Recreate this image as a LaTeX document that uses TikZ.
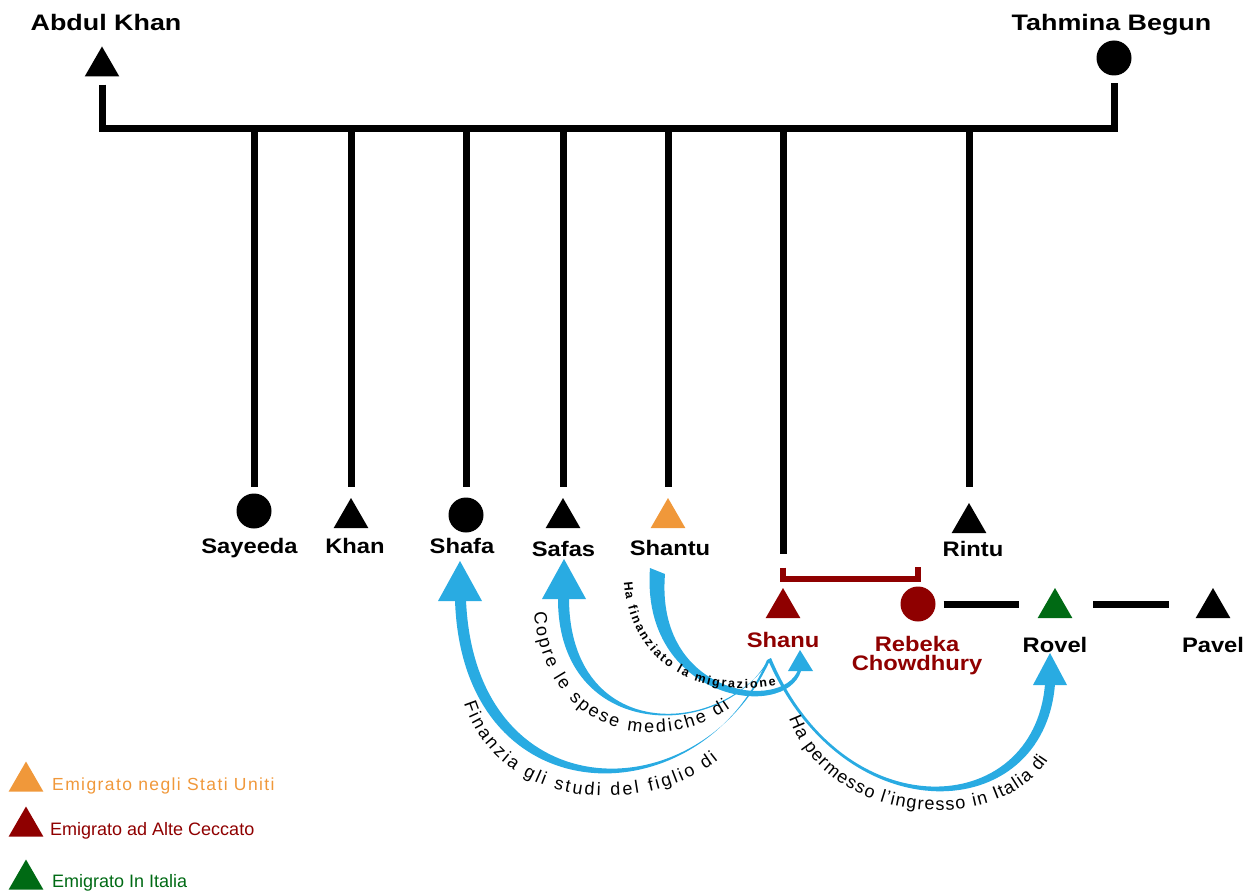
\documentclass[tikz,border=0pt]{standalone}
\usepackage{fontspec}
\setmainfont{Liberation Sans}
\newfontfamily\namefont{Liberation Sans}[FakeStretch=1.13]
\newfontfamily\topfont{Liberation Sans}[FakeStretch=1.2]
\newfontfamily\spacedfont{Liberation Sans}[LetterSpace=8]
\usetikzlibrary{shapes.geometric,calc,decorations.text}
\definecolor{arrowblue}{RGB}{41,171,226}
\definecolor{usaorange}{RGB}{240,152,58}
\definecolor{altered}{RGB}{143,0,0}
\definecolor{itagreen}{RGB}{0,106,20}
\newcommand\arcfont{\fontsize{18}{20}\selectfont}
\newcommand\smallarcfont{\bfseries\fontsize{12.5}{14}\selectfont}
\tikzset{
  male/.style={regular polygon, regular polygon sides=3, minimum size=40pt, inner sep=0pt, fill=black},
  female/.style={circle, minimum size=35pt, inner sep=0pt, fill=black},
  nametxt/.style={font=\namefont\bfseries\fontsize{21}{19.6}\selectfont, anchor=base, inner sep=0pt, align=center},
  topname/.style={font=\topfont\bfseries\fontsize{22.4}{24}\selectfont, anchor=base, inner sep=0pt},
  legendtxt/.style={anchor=base west, inner sep=0pt, font=\fontsize{18}{20}\selectfont},
  famline/.style={line width=7pt},
  marline/.style={line width=6pt, altered},
  arclabel/.style={decorate, decoration={text along path, text color=black, text align={fit to path}, text={#1}}},
}
\begin{document}
\begin{tikzpicture}[x=1pt,y=-1pt]
\useasboundingbox (0,0) rectangle (1255,893);

% parents
\node[male] (abdul) at (102,66.5) {};
\node[female] (tahmina) at (1114,58) {};
\node[topname] (abdultxt) at (106,30.7) {Abdul Khan};
\node[topname] (tahminatxt) at (1111.5,30.5) {Tahmina Begun};

% children
\node[female] (sayeeda) at (254,511) {};
\node[male] (khan) at (351,518) {};
\node[female] (shafa) at (466,515) {};
\node[male] (safas) at (563,518) {};
\node[male, fill=usaorange] (shantu) at (668,518) {};
\node[male] (rintu) at (969,523) {};
\node[male, fill=altered] (shanu) at (783,608) {};
\node[female, fill=altered] (rebeka) at (918,604) {};
\node[male, fill=itagreen] (rovel) at (1055,608) {};
\node[male] (pavel) at (1213,608) {};

\node[nametxt] (sayeedatxt) at (249.5,553) {Sayeeda};
\node[nametxt] (khantxt) at (355,553) {Khan};
\node[nametxt] (shafatxt) at (462,553) {Shafa};
\node[nametxt] (safastxt) at (563.5,556) {Safas};
\node[nametxt] (shantutxt) at (670,555) {Shantu};
\node[nametxt] (rintutxt) at (973,556) {Rintu};
\node[nametxt, text=altered] (shanutxt) at (783,647) {Shanu};
\node[nametxt, text=altered] (rebekatxt) at (917,670.6) {Rebeka\\Chowdhury};
\node[nametxt] (roveltxt) at (1055,652) {Rovel};
\node[nametxt] (paveltxt) at (1213,652) {Pavel};

% family lines
\coordinate (bar) at (0,129);
\coordinate (kidbar) at (0,487);
\draw[famline, shorten <=8pt, shorten >=7pt] (abdul.south) |- (bar -| tahmina.south) -- (tahmina.south);
\foreach \kid in {sayeeda,khan,shafa,safas,shantu,rintu}
  \draw[famline] (\kid |- bar) -- (\kid |- kidbar);
\draw[famline] (shanu |- bar) -- ($(shanu.north)+(0,-34)$);
\draw[marline] ($(shanu.north)+(0,-20)$) |- ($(rebeka.north)+(0,-7)$) -- ($(rebeka.north)+(0,-19)$);
\draw[famline] ($(rebeka.east)+(8,0)$) -- ($(rovel.center |- rebeka.east)+(-36,0)$);
\draw[famline] ($(rovel.center |- rebeka.east)+(38,0)$) -- ($(pavel.center |- rebeka.east)+(-44,0)$);

% arrows
\fill[arrowblue] (767,660) .. controls (700,820) and (462,820) .. (455,600) -- (466,600) .. controls (475,814) and (702,814) .. (771,658) -- cycle;
\fill[arrowblue] (460,561) -- (482,601) -- (438,601) -- cycle;
\fill[arrowblue] (768,660) .. controls (722,742) and (558,742) .. (558,599) -- (569,599) .. controls (570,740) and (716,740) .. (771,659) -- cycle;
\fill[arrowblue] (564,559) -- (586,599) -- (542,599) -- cycle;
\fill[arrowblue] (650,568) .. controls (640,700) and (785,722) .. (801,671) -- (798,670) .. controls (782,712) and (655,696) .. (665,574) -- cycle;
\fill[arrowblue] (800,650) -- (813,671) -- (788,671) -- cycle;
\fill[arrowblue] (768,660) .. controls (845,836) and (1044,826) .. (1055,684) -- (1045,684) .. controls (1034,820) and (843,830) .. (771,658) -- cycle;
\fill[arrowblue] (1050,653) -- (1067,685) -- (1033,685) -- cycle;

% arrow labels
\path[arclabel={|\arcfont|Finanzia gli studi del figlio di}] (464,703) .. controls (500,815) and (650,815) .. (718,760);
\path[arclabel={|\arcfont|Copre le spese mediche di}] (534,612) .. controls (545,737) and (660,757) .. (730,708);
\path[arclabel={|\smallarcfont|Ha finanziato la migrazione}] (624,582) .. controls (630,665) and (700,700) .. (776,685);
\path[arclabel={|\arcfont|Ha permesso l’ingresso in Italia di}] (789,718) .. controls (830,830) and (1000,835) .. (1048,760);

% legend
\node[male, fill=usaorange] (legusa) at (26,781.5) {};
\node[male, fill=altered] (legalte) at (26,826.5) {};
\node[male, fill=itagreen] (legita) at (26,879.5) {};
\node[legendtxt, text=usaorange, font=\spacedfont\fontsize{17.5}{20}\selectfont] (legusatxt) at (52,790) {Emigrato negli Stati Uniti};
\node[legendtxt, text=altered] (legaltetxt) at (50,835) {Emigrato ad Alte Ceccato};
\node[legendtxt, text=itagreen] (legitatxt) at (52,887) {Emigrato In Italia};
\end{tikzpicture}
\end{document}
